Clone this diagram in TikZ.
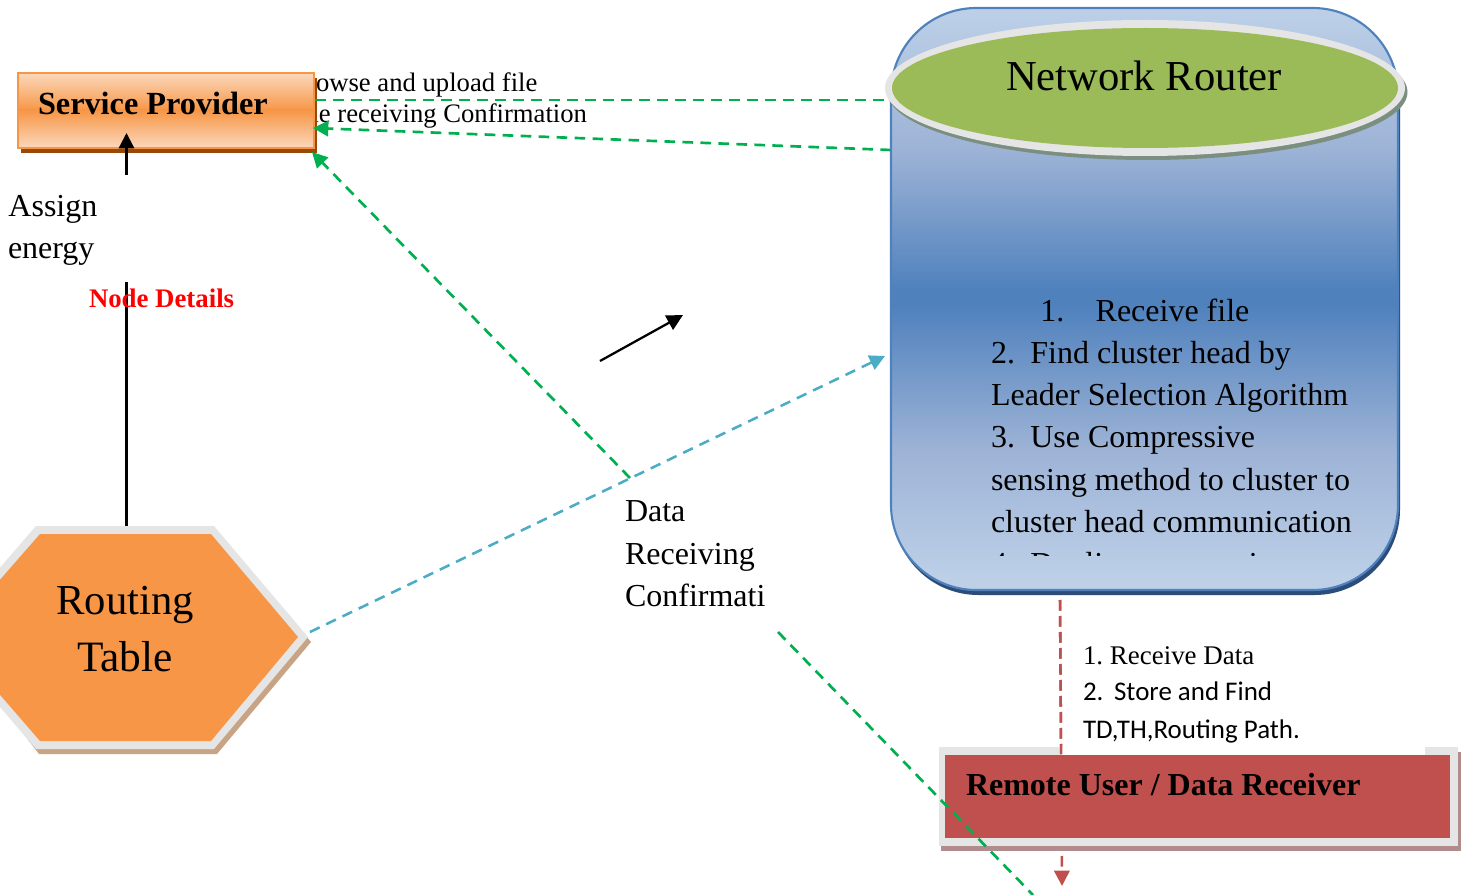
\documentclass[tikz,border=0pt]{standalone}
\usepackage{fontspec}
\setmainfont{Liberation Serif}
\newfontfamily\calfont{Carlito}
\usetikzlibrary{arrows.meta,calc}
\definecolor{grn}{HTML}{00B050}
\definecolor{teal2}{HTML}{4BACC6}
\definecolor{red2}{HTML}{C0504D}
\definecolor{org}{HTML}{F79646}
\definecolor{orgl}{HTML}{FBD8BC}
\definecolor{orgd}{HTML}{984807}
\definecolor{orgs}{HTML}{C9A484}
\definecolor{blu}{HTML}{4F81BD}
\definecolor{blul}{HTML}{BDD0E8}
\definecolor{blum}{HTML}{9DB3D6}
\definecolor{blud}{HTML}{2C4D7A}
\definecolor{ring}{HTML}{E5E5E5}
\definecolor{ringd}{HTML}{7A8F7F}
\definecolor{olive}{HTML}{9BBB59}
\definecolor{reds}{HTML}{B08D8C}
\newcommand{\fs}[1]{\fontsize{#1}{#1}\selectfont}
\tikzset{
  x=0.75pt,y=-0.75pt,
  txt/.style={inner sep=0pt,outer sep=0pt,anchor=base west,text=black},
  greenline/.style={grn,line width=2pt,dash pattern=on 8pt off 5.5pt},
  tealline/.style={teal2,line width=1.9pt,dash pattern=on 8pt off 5.5pt},
  redline/.style={red2,line width=1.9pt,dash pattern=on 8pt off 4pt},
  tip/.style={-{Triangle[length=11.5pt,width=11.5pt]}},
  blackline/.style={black,line width=1.7pt},
}
\begin{document}
\begin{tikzpicture}
\useasboundingbox (0,0) rectangle (1465,895);
\fill[white] (0,0) rectangle (1465,895);
\clip (0,0) rectangle (1465,895);
% free ends
\coordinate (arrA) at (600,361);
\coordinate (arrB) at (683,315);
\coordinate (upA) at (126.5,175);
\coordinate (upB) at (126.5,133);
\coordinate (stemTop) at (126.5,282);
\coordinate (stemBot) at (126.5,527);
\coordinate (g1a) at (315,100);
\coordinate (g1b) at (890,100);
\coordinate (g2a) at (891,150);
\coordinate (g2b) at (313,128);
\coordinate (g3a) at (630,478);
\coordinate (g3b) at (312,152);
\coordinate (g4a) at (778,632);
\coordinate (g4b) at (1033,895);
\coordinate (t1a) at (310,632);
\coordinate (t1b) at (885,356);
\coordinate (r1a) at (1060,600);
\coordinate (r1b) at (1062,886);
% labels beneath the provider box
\node[txt,font=\fs{20}] (lblBrowse) at (316,92) {owse and upload file};
\node[txt,font=\fs{20},anchor=base east] (lblConf) at (587,123) {le receiving Confirmation};
% Provider
\fill[orgd] (21,78) rectangle (317,153);
\fill[top color=orgl,bottom color=org] (18,73) rectangle (314,110.5);
\fill[top color=org,bottom color=orgl] (18,110) rectangle (314,148);
\draw[org,line width=1.5pt] (18,73) rectangle (314,148);
\node[txt,font=\bfseries\fs{24.2}] (provider) at (38,115) {Service Provider};
% green lines to the router
\draw[greenline] (g1a) -- (g1b);
\draw[greenline,tip] (g2a) -- (g2b);
\draw[greenline,tip] (g3a) -- (g3b);
\draw[tealline,tip] (t1a) -- (t1b);
% Router drum
\fill[blud,rounded corners=64pt] (893,12) rectangle (1400,595);
\begin{scope}
\clip[rounded corners=64pt] (891,8) rectangle (1398,590);
\fill[top color=blul,bottom color=blum] (885,8) rectangle (1405,150);
\fill[top color=blum,bottom color=blu] (885,149.5) rectangle (1405,290);
\fill[blu] (885,289.5) rectangle (1405,305);
\fill[top color=blu,bottom color=blum] (885,304.5) rectangle (1405,450);
\fill[top color=blum,bottom color=blul] (885,449.5) rectangle (1405,580);
\fill[blul] (885,579.5) rectangle (1405,595);
\end{scope}
\draw[blu,line width=1.6pt,rounded corners=64pt] (891,8) rectangle (1398,590);
% Router ellipse
\fill[ringd] (1147.5,92) ellipse (260 and 68);
\fill[ring] (1145,88) ellipse (260 and 68);
\fill[olive] (1145,88) ellipse (253 and 60);
\node[txt,font=\fs{32}] (routerT) at (1006,91) {Network Router};
% Router text
\begin{scope}
\clip (885,280) rectangle (1405,555);
\node[inner sep=0pt,outer sep=0pt,anchor=north west,align=left,font=\fontsize{24}{31.7}\selectfont] (steps) at (991,298.5) {\hspace*{37pt}1.\hspace{23.5pt}Receive file\\2.\hspace{11.5pt}Find cluster head by\\Leader Selection Algorithm\\3.\hspace{11.5pt}Use Compressive\\sensing method to cluster to\\cluster head communication\\4.\hspace{11.5pt}Duplicate to receiver};
\end{scope}
% black connectors
\draw[blackline,tip] (upA) -- (upB);
\draw[blackline] (stemBot) -- (stemTop);
\draw[blackline,-{Triangle[length=12pt,width=12pt]}] (arrA) -- (arrB);
% text
\node[txt,font=\fs{24}] (assign) at (8.5,217) {Assign};
\node[txt,font=\fs{24}] (energy) at (8,258) {energy};
\node[txt,font=\bfseries\fs{20.1},text=red] (details) at (89,307) {Node Details};
% Routing table
\fill[orgs] (39,531) -- (217,531) -- (311,642) -- (217,754) -- (39,754) -- (-47,642) -- cycle;
\fill[ring] (36,526) -- (214,526) -- (308,637) -- (214,749) -- (36,749) -- (-60,637) -- cycle;
\fill[org] (40,534) -- (211,534) -- (298,637) -- (211,741) -- (40,741) -- (-50,637) -- cycle;
\node[txt,font=\fs{32},anchor=base] (rt1) at (125,614) {Routing};
\node[txt,font=\fs{32.5},anchor=base] (rt2) at (125,671) {Table};
% data label
\node[txt,font=\fs{24}] (d1) at (625,521) {Data};
\node[txt,font=\fs{24}] (d2) at (625,564) {Receiving};
\node[txt,font=\fs{24}] (d3) at (625,606) {Confirmati};
% red connector + remote box
\draw[redline,tip] (r1a) -- (r1b);
\fill[reds] (941,752) rectangle (1461,851);
\fill[ring] (939,747) rectangle (1458,846);
\fill[white] (1061,745) rectangle (1425,755);
\draw[redline] (r1a) -- ($(r1a)!0.54!(r1b)$);
\fill[red2] (945,755) rectangle (1450,838);
\node[txt,font=\bfseries\fs{24}] (remote) at (966,795) {Remote User / Data Receiver};
\draw[greenline] (g4a) -- (g4b);
% receiver notes
\node[txt,font=\frenchspacing\fs{20.2}] (n1) at (1083,664) {1. Receive Data};
\node[txt,font=\calfont\fs{20.2}] (n2) at (1083,700) {2.\hspace{8pt}Store and Find};
\node[txt,font=\calfont\fs{20.2}] (n3) at (1083,738) {TD,TH,Routing Path.};
\end{tikzpicture}
\end{document}
